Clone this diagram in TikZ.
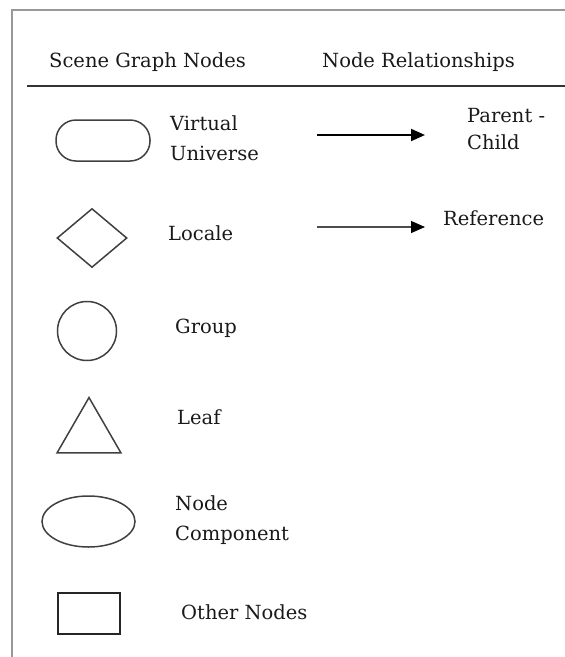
\documentclass[tikz,border=0pt]{standalone}
\usepackage{fontspec}
\setmainfont{DejaVu Serif}
\usetikzlibrary{shapes.geometric,arrows.meta}
\begin{document}
\begin{tikzpicture}[x=1pt,y=-1pt,
  framel/.style={draw=black!40,line width=1.5pt},
  headline/.style={draw=black!80,line width=2pt},
  hdr/.style={anchor=base west,inner sep=0pt,font=\fontsize{19.5}{22}\selectfont,text=black!90},
  lbl/.style={anchor=west,inner sep=0pt,font=\fontsize{19.5}{30}\selectfont,align=left,text=black!90},
  shp/.style={draw=black!75,line width=1.5pt,inner sep=0pt},
  pcarrow/.style={draw=black,line width=2pt,-{Triangle[length=14pt,width=12pt]}},
  refarrow/.style={draw=black!70,line width=1.2pt,-{Triangle[length=14pt,width=12pt,fill=black,color=black]}}]
\useasboundingbox (0,0) rectangle (565,657);
% frame
\draw[framel] (12,657) -- (12,10) -- (565,10);
% header
\node[hdr] (h1) at (49,67) {Scene Graph Nodes};
\node[hdr] (h2) at (322,67) {Node Relationships};
\coordinate (hl1) at (27,86);
\coordinate (hl2) at (565,86);
\draw[headline] (hl1) -- (hl2);
% shapes
\node[shp,rectangle,rounded corners=20pt,minimum width=94pt,minimum height=41pt] (vu) at (103,140.5) {};
\node[lbl] (vut) at (170,138) {Virtual\\Universe};
\node[shp,diamond,minimum width=70pt,minimum height=59pt] (lo) at (92,238) {};
\node[lbl] (lot) at (168,233) {Locale};
\node[shp,circle,minimum size=59pt] (gr) at (87,331) {};
\node[lbl] (grt) at (175,328) {Group};
\node[shp,regular polygon,regular polygon sides=3,minimum size=73.9pt] (lf) at (89,434.5) {};
\node[lbl] (lft) at (177,417) {Leaf};
\node[shp,ellipse,minimum width=93pt,minimum height=51pt] (nc) at (88.5,521.5) {};
\node[lbl] (nct) at (175,520) {Node\\Component};
\node[shp,draw=black!85,line width=2pt,rectangle,minimum width=62pt,minimum height=41pt] (on) at (89,613.5) {};
\node[lbl] (ont) at (181,612) {Other Nodes};
% relationships
\coordinate (pa) at (317,135);
\coordinate (pb) at (425,135);
\draw[pcarrow] (pa) -- (pb);
\node[lbl,font=\fontsize{19.5}{27}\selectfont] (pct) at (467,129) {Parent -\\Child};
\coordinate (ra) at (317,227);
\coordinate (rb) at (425,227);
\draw[refarrow] (ra) -- (rb);
\node[lbl] (rft) at (443,218) {Reference};
\end{tikzpicture}
\end{document}
